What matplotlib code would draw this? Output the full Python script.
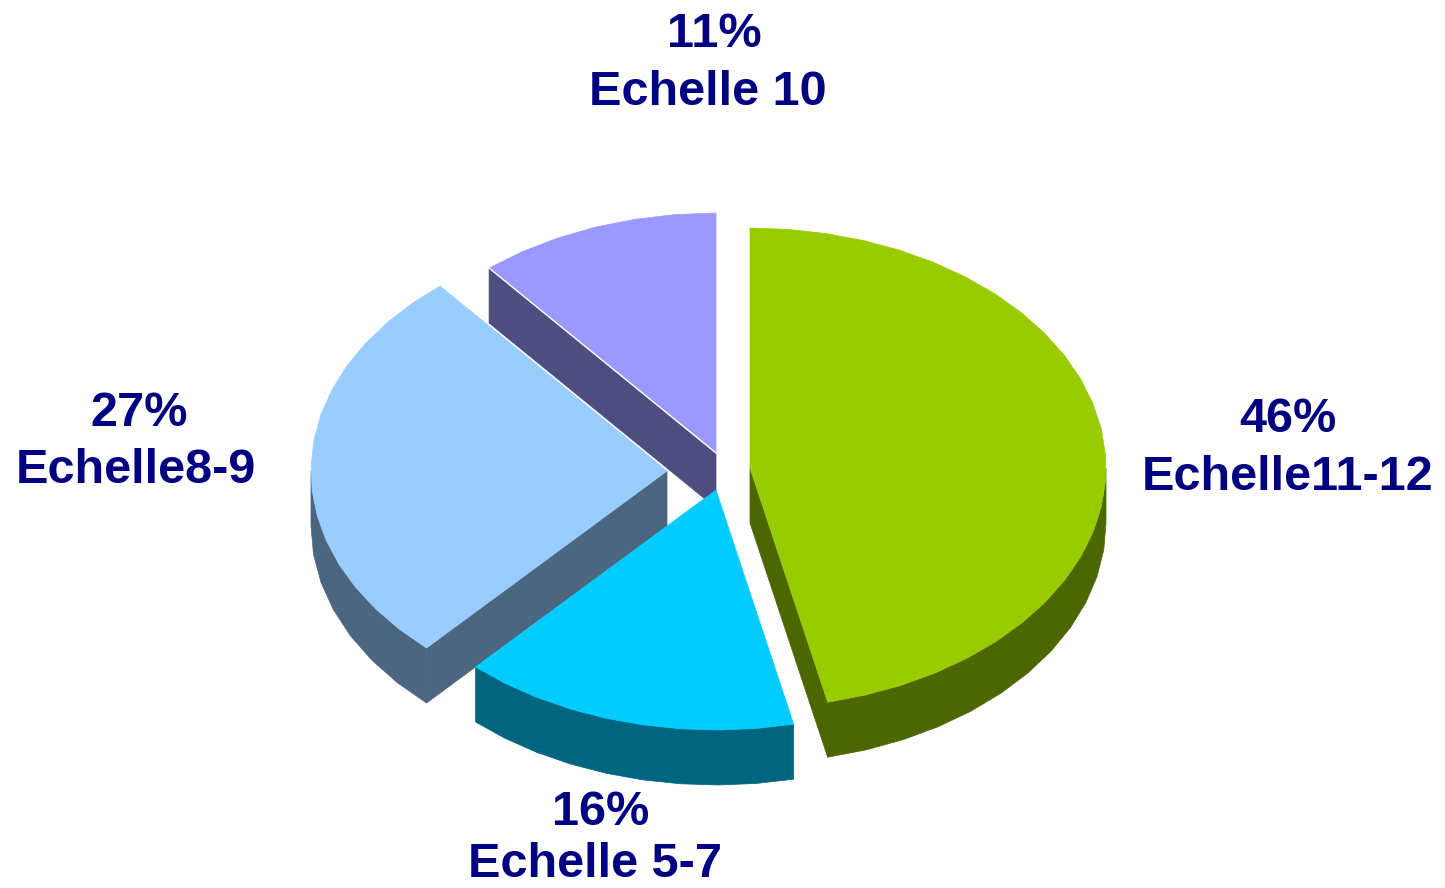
import matplotlib
matplotlib.use("Agg")
import matplotlib.pyplot as plt
from matplotlib.patches import Polygon
import numpy as np

# slices clockwise from 12 o'clock
labels = ["Echelle11-12", "Echelle 5-7", "Echelle8-9", "Echelle 10"]
percent = [46, 16, 27, 11]
# shares as they look on the picture, a bit off the printed rounding
values = [46.5, 15.3, 27.2, 11]
top_colors = ["#99CC00", "#00CCFF", "#99CCFF", "#9999FF"]
side_colors = ["#4C6600", "#006680", "#4D6680", "#4D4D80"]

# where each slice apex ends up after the explode, in pixels
apex = [(750, 468), (716, 490), (667, 471), (716, 453)]
pct_pos = [(1288, 432), (601, 825), (139, 426), (714, 47)]
name_pos = [(1288, 490), (595, 877), (136, 483), (708, 105)]

rx, ry = 356, 240
depth = 55

plt.rcParams["font.family"] = ["Liberation Sans", "DejaVu Sans"]
fig = plt.figure(figsize=(14.45, 8.88), dpi=100)
ax = fig.add_axes([0, 0, 1, 1])
ax.set_xlim(0, 1445)
ax.set_ylim(888, 0)
ax.axis("off")

ends = np.cumsum(values) / np.sum(values) * 2 * np.pi
starts = ends - np.array(values) / np.sum(values) * 2 * np.pi


def arc(cx, cy, a, b):
    # coarse on purpose, the original rim is faceted
    n = max(2, int(np.degrees(b - a) / 6) + 1)
    t = np.linspace(a, b, n)
    return np.column_stack([cx + rx * np.sin(t), cy - ry * np.cos(t)])


def edge(cx, cy, ang):
    return np.array([[cx, cy], [cx + rx * np.sin(ang), cy - ry * np.cos(ang)]])


def wall(i):
    cx, cy = apex[i]
    a, b = starts[i], ends[i]
    pieces = []
    # outer rim, only the part that faces down
    lo, hi = max(a, np.pi / 2), min(b, 3 * np.pi / 2)
    if hi > lo:
        pts = arc(cx, cy, lo, hi)
        pieces.append(np.vstack([pts, pts[::-1] + [0, depth]]))
    # cut faces whose outward side points down
    if -np.sin(a) > 1e-6:
        e = edge(cx, cy, a)
        pieces.append(np.vstack([e, e[::-1] + [0, depth]]))
    if np.sin(b) > 1e-6:
        e = edge(cx, cy, b)
        pieces.append(np.vstack([e, e[::-1] + [0, depth]]))
    return pieces


def draw(i):
    for p in wall(i):
        ax.add_patch(Polygon(p, closed=True, fc=side_colors[i], ec=side_colors[i], lw=0.5))
    cx, cy = apex[i]
    pts = np.vstack([[cx, cy], arc(cx, cy, starts[i], ends[i])])
    ax.add_patch(Polygon(pts, closed=True, fc=top_colors[i], ec=top_colors[i], lw=0.5))


for i in [3, 2, 0, 1]:
    draw(i)
    if i == 3:
        # thin light seam between the purple top and its wall
        e = edge(apex[3][0], apex[3][1], starts[3])
        ax.plot(e[:, 0], e[:, 1], color="white", lw=1.0)

for i in range(len(labels)):
    ax.text(pct_pos[i][0], pct_pos[i][1], "%d%%" % percent[i], ha="center", va="baseline",
            fontsize=35, fontweight="bold", color="#000080")
    ax.text(name_pos[i][0], name_pos[i][1], labels[i], ha="center", va="baseline",
            fontsize=35, fontweight="bold", color="#000080")

fig.savefig("out.png", dpi=100)
